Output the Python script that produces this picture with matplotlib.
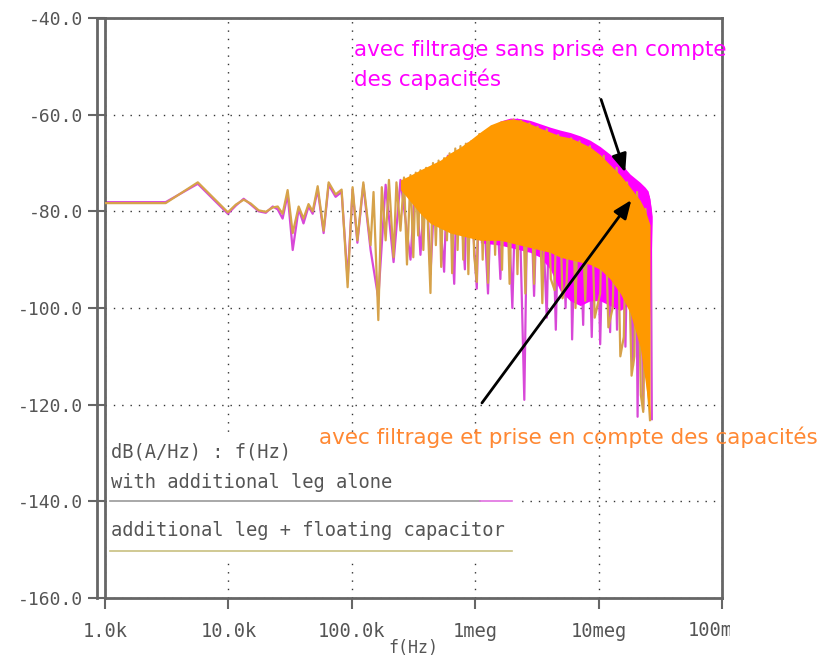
import matplotlib
matplotlib.use("Agg")
import matplotlib.pyplot as plt
from matplotlib.lines import Line2D
from matplotlib.patches import Rectangle
from matplotlib.transforms import Bbox, TransformedBbox

plt.rcParams['font.family'] = ['DejaVu Sans']
plt.rcParams['axes.unicode_minus'] = False

W, H = 831, 660

# ---- "with additional leg alone" (magenta)
trace_a_f = [1e3, 3.1e3, 5.65e3, 9.9e3, 11.5e3, 13.3e3, 15.2e3, 17.6e3, 20.1e3, 22.9e3,
             25.1e3, 27.5e3, 30.2e3, 33.2e3, 37.1e3, 40.6e3, 44.6e3, 48.2e3, 52.9e3, 59.1e3,
             64.9e3, 73.9e3, 82.7e3, 92.5e3, 101.5e3, 111e3, 124e3, 142e3, 164e3, 188e3,
             218e3, 248e3, 299e3, 330e3, 360e3, 400e3, 434e3, 480e3, 560e3, 600e3,
             676e3, 720e3, 825e3, 870e3, 1.03e6, 1.1e6, 1.27e6, 1.4e6, 1.6e6, 1.75e6,
             2.0e6, 2.2e6, 2.5e6, 2.7e6, 3.0e6, 3.3e6, 3.8e6, 4.1e6, 4.5e6, 4.9e6,
             5.4e6, 5.8e6, 6.1e6, 6.7e6, 7.5e6, 8.0e6, 8.8e6, 9.5e6, 10.3e6, 11.2e6,
             12.4e6, 13.2e6, 14.1e6, 15.0e6, 16.5e6, 17.5e6, 19.0e6, 20.0e6, 20.7e6, 21.5e6,
             23.0e6, 24.0e6, 25.5e6, 26.5e6, 27.0e6]
trace_a_db = [-78.1, -78.1, -74.3, -80.5, -78.8, -77.4, -78.6, -80.0, -80.3, -79.0,
              -79.6, -81.5, -76.5, -88.0, -79.5, -82.5, -79.0, -80.5, -75.5, -84.5,
              -74.5, -77.0, -76.0, -94.0, -75.5, -86.5, -74.5, -88.0, -98.0, -74.5,
              -90.5, -73.5, -90.0, -72.5, -89.0, -71.5, -93.0, -70.5, -92.5, -68.5,
              -95.0, -67.5, -92.0, -66.0, -96.0, -64.5, -97.0, -62.5, -94.0, -61.5,
              -100.0, -61.0, -119.0, -62.0, -97.5, -63.0, -102.0, -63.5, -104.5, -64.0,
              -100.0, -64.5, -106.5, -65.0, -103.5, -66.0, -106.0, -67.0, -107.5, -68.5,
              -105.0, -69.5, -104.5, -71.0, -108.0, -72.5, -112.0, -74.0, -122.5, -75.0,
              -121.0, -76.0, -77.0, -80.0, -123.0]

band_a_f = [1.1e6, 1.6e6, 1.93e6, 2.32e6, 2.8e6, 3.37e6, 4.06e6, 4.89e6, 5.89e6, 7.1e6,
            8.55e6, 10.3e6, 12.4e6, 15e6, 18e6, 21.7e6, 23.8e6, 25.2e6, 26.1e6, 27.2e6]
band_a_top = [-64.0, -61.3, -60.7, -60.8, -61.2, -61.9, -62.6, -63.2, -63.7, -64.4,
              -65.3, -66.6, -68.2, -70.0, -72.3, -74.0, -75.0, -75.8, -77.5, -81.0]
band_a_bot = [-86.5, -87.0, -87.5, -88.0, -88.5, -89.5, -92.0, -96.5, -98.5, -99.5,
              -98.5, -98.5, -99.5, -100.5, -99.0, -104.0, -108.0, -110.0, -100.0, -82.0]

# ---- "additional leg + floating capacitor" (orange)
trace_b_f = [1e3, 3.1e3, 5.65e3, 9.9e3, 11.5e3, 13.3e3, 15.2e3, 17.6e3, 20.1e3, 22.9e3,
             25.1e3, 27.5e3, 30.2e3, 33.2e3, 37.1e3, 40.6e3, 44.6e3, 48.2e3, 52.9e3, 59.1e3,
             64.9e3, 73.9e3, 82.7e3, 92.5e3, 101.5e3, 111e3, 124e3, 142e3, 150e3, 164e3,
             175e3, 188e3, 200e3, 218e3, 230e3, 248e3, 265e3, 280e3, 299e3, 315e3,
             330e3, 345e3, 360e3, 380e3, 400e3, 415e3, 434e3, 455e3, 480e3, 505e3,
             530e3, 560e3, 590e3, 620e3, 650e3, 690e3, 720e3, 760e3, 800e3, 840e3,
             880e3, 930e3, 980e3, 1.03e6, 1.08e6, 1.15e6, 1.2e6, 1.27e6, 1.35e6, 1.45e6,
             1.55e6, 1.65e6, 1.75e6, 1.9e6, 2.05e6, 2.2e6, 2.35e6, 2.55e6, 2.75e6, 3.0e6,
             3.2e6, 3.5e6, 3.8e6, 4.1e6, 4.4e6, 4.7e6, 5.1e6, 5.5e6, 6.0e6, 6.5e6,
             7.0e6, 7.8e6, 8.5e6, 9.3e6, 10.3e6, 11.0e6, 12.0e6, 13.0e6, 14.0e6, 15.0e6,
             16.0e6, 17.0e6, 18.5e6, 19.5e6, 20.5e6, 22.0e6, 23.0e6, 24.0e6, 25.0e6, 26.1e6]
trace_b_db = [-78.3, -78.3, -74.0, -80.2, -78.6, -77.6, -78.4, -79.8, -80.1, -79.2,
              -79.0, -80.5, -75.6, -84.5, -79.0, -81.5, -78.5, -80.0, -74.8, -84.0,
              -74.0, -76.5, -75.5, -95.7, -75.0, -86.0, -74.0, -87.0, -76.0, -102.5,
              -75.0, -86.0, -73.5, -89.5, -74.0, -84.0, -73.0, -91.0, -72.5, -89.5,
              -72.0, -85.0, -71.5, -88.0, -71.0, -84.0, -96.9, -70.0, -87.0, -69.5,
              -91.5, -69.0, -86.0, -68.0, -92.8, -67.0, -88.0, -66.5, -90.0, -66.0,
              -93.0, -65.5, -89.0, -94.6, -64.0, -90.0, -63.5, -94.8, -62.5, -89.0,
              -62.0, -92.1, -61.5, -95.0, -61.0, -93.0, -61.2, -97.0, -61.8, -95.0,
              -62.5, -99.0, -63.0, -94.0, -96.3, -64.2, -98.0, -95.0, -64.9, -100.0,
              -65.5, -98.5, -66.5, -102.0, -97.0, -68.5, -104.0, -100.0, -71.0, -110.0,
              -106.0, -74.0, -114.0, -110.0, -76.0, -118.0, -121.5, -79.5, -116.0, -123.2]

band_b_f = [248e3, 299e3, 360e3, 434e3, 523e3, 630e3, 759e3, 914e3,
            1.10e6, 1.33e6, 1.60e6, 1.93e6, 2.32e6, 2.80e6, 3.37e6, 4.06e6, 4.89e6, 5.89e6,
            7.10e6, 8.55e6, 10.3e6, 12.4e6, 15.0e6, 18.0e6, 21.7e6, 23.8e6, 26.1e6]
band_b_top = [-73.5, -72.5, -71.4, -70.4, -69.4, -67.9, -66.7, -65.2,
              -63.6, -62.1, -61.3, -60.9, -61.1, -61.9, -62.8, -63.6, -64.4, -64.8,
              -65.7, -66.7, -68.3, -70.4, -72.5, -75.0, -77.7, -79.7, -82.8]
band_b_bot = [-75.5, -78.0, -80.5, -82.5, -83.5, -84.5, -85.0, -85.5,
              -86.0, -86.0, -86.0, -86.5, -87.0, -87.5, -88.0, -88.5, -89.5, -90.0,
              -90.5, -91.0, -92.0, -94.0, -97.0, -101.0, -108.0, -115.0, -123.0]

y_ticks = [-160, -140, -120, -100, -80, -60, -40]
x_ticks = [1e3, 1e4, 1e5, 1e6, 1e7, 1e8]
x_labels = ["1.0k", "10.0k", "100.0k", "1meg", "10meg", "100meg"]

MAGENTA = '#FF00FF'
ORANGE = '#FF9900'
frame = '#666666'
label_c = '#555555'
MONO = 'DejaVu Sans Mono'


def px(x, y):
    return x / W, 1 - y / H


fig = plt.figure(figsize=(W / 100, H / 100), dpi=100)
ax = fig.add_axes([105 / W, 1 - 598 / H, (722 - 105) / W, (598 - 18) / H])
ax.set_xscale('log')
ax.set_xlim(1e3, 1e8)
ax.set_ylim(-160, -40)

# traces
ax.plot(trace_a_f, trace_a_db, color='#D848D8', lw=1.6, zorder=2)
ax.fill_between(band_a_f, band_a_bot, band_a_top, color=MAGENTA, lw=0, zorder=2)
ax.plot(trace_b_f, trace_b_db, color='#D6A24A', lw=1.6, zorder=3)
ax.fill_between(band_b_f, band_b_bot, band_b_top, color=ORANGE, lw=0, zorder=3)

# axes cosmetics
ax.set_xticks(x_ticks)
ax.set_xticklabels(x_labels[:-1] + [""], family=MONO)
ax.minorticks_off()
ax.set_yticks(y_ticks)
ax.set_yticklabels(["%.1f" % v for v in y_ticks], family=MONO)
ax.grid(True, color='#333333', linestyle=(0, (1, 5)), lw=1.0)
for s in ax.spines.values():
    s.set_color(frame)
    s.set_linewidth(2)
ax.tick_params(axis='y', direction='out', length=12, width=1.5, color=frame,
               labelsize=13, labelcolor=label_c, pad=4)
ax.tick_params(axis='x', direction='out', length=8, width=1.5, color=frame,
               labelsize=13.5, labelcolor=label_c, pad=9)
ax.set_xlabel("f(Hz)", fontsize=12, color=label_c, labelpad=-1, family=MONO)

# outer left rule
fig.add_artist(Line2D([97 / W, 97 / W], [1 - 18 / H, 1 - 598 / H],
                      transform=fig.transFigure, color=frame, lw=2))
fig.add_artist(Line2D([97 / W, 105 / W], [1 - 18 / H, 1 - 18 / H],
                      transform=fig.transFigure, color=frame, lw=2))

# clipped last x label
t = fig.text(*px(722, 631), x_labels[-1], fontsize=13.5, color=label_c,
             ha='center', va='center', family=MONO)
t.set_clip_box(TransformedBbox(Bbox([[0, 0], [730 / W, 1]]), fig.transFigure))
t.set_clip_on(True)

# legend block
fig.add_artist(Rectangle(px(107, 563), (517 - 107) / W, (563 - 437) / H,
                         transform=fig.transFigure, facecolor='white',
                         edgecolor='none', zorder=5))
fig.text(*px(111, 452), "dB(A/Hz) : f(Hz)", fontsize=13.5, color=label_c,
         va='center', zorder=6, family=MONO)
fig.text(*px(111, 482), "with additional leg alone", fontsize=13.5, color=label_c,
         va='center', zorder=6, family=MONO)
fig.add_artist(Line2D([110 / W, 480 / W], [1 - 501 / H] * 2, transform=fig.transFigure,
                      color='#9a9a9a', lw=1.2, zorder=6))
fig.add_artist(Line2D([480 / W, 512 / W], [1 - 501 / H] * 2, transform=fig.transFigure,
                      color='#E070E0', lw=1.2, zorder=6))
fig.text(*px(111, 530), "additional leg + floating capacitor", fontsize=13.5,
         color=label_c, va='center', zorder=6, family=MONO)
fig.add_artist(Line2D([110 / W, 512 / W], [1 - 551 / H] * 2, transform=fig.transFigure,
                      color='#C8C080', lw=1.2, zorder=6))

# callouts
fig.text(*px(354, 40), "avec filtrage sans prise en compte\ndes capacités",
         fontsize=15.5, color=MAGENTA, va='top', ha='left', linespacing=1.5)
fig.text(*px(319, 426), "avec filtrage et prise en compte des capacités",
         fontsize=15.5, color='#FF8833', va='top', ha='left', zorder=7)
arrow = dict(arrowstyle='-|>,head_length=1.1,head_width=0.45', color='black', lw=2)
ax.annotate("", xy=(16.7e6, -72.5), xytext=(10.3e6, -56.3),
            arrowprops=arrow, annotation_clip=False, zorder=8)
ax.annotate("", xy=(19.0e6, -77.2), xytext=(1.10e6, -120.1),
            arrowprops=arrow, annotation_clip=False, zorder=8)

fig.savefig("out.png", dpi=100, facecolor='white')
